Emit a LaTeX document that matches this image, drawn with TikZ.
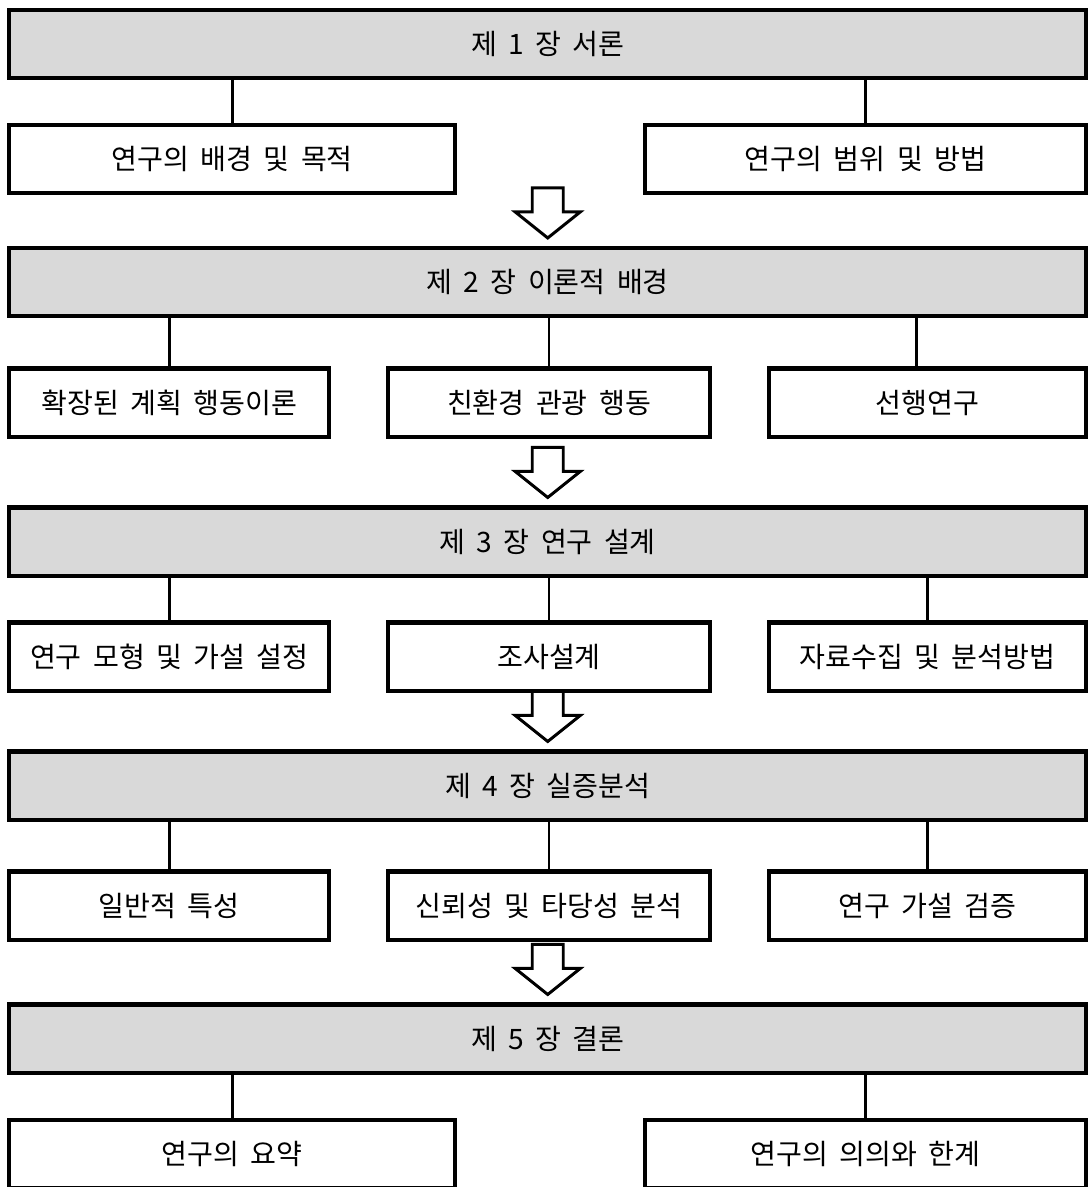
\documentclass[tikz,border=0pt]{standalone}
\usepackage{fontspec}
\setmainfont[WordSpace=1.8]{Noto Sans CJK KR}
\usetikzlibrary{positioning, calc}
\definecolor{chapgray}{HTML}{D9D9D9}

\begin{document}
\begin{tikzpicture}[x=0.01cm, y=-0.01cm,
  every node/.style={font=\fontsize{8pt}{9.5pt}\selectfont},
  chap/.style={draw, line width=1.15pt, fill=chapgray, minimum width=10.765cm,
    minimum height=0.68cm, inner sep=0pt},
  sub/.style={draw, line width=1.15pt, fill=white, minimum height=0.68cm, inner sep=0pt},
  link/.style={line width=0.85pt},
  bigarrow/.style={draw, line width=0.85pt, fill=white, line join=miter}]
\useasboundingbox (0,0) rectangle (1088,1187);

% chapters
\node[chap] (ch1) at (547.75,43.75) {제 1 장 서론};
\node[chap] (ch2) at (547.75,282) {제 2 장 이론적 배경};
\node[chap] (ch3) at (547.75,541.5) {제 3 장 연구 설계};
\node[chap] (ch4) at (547.75,785.5) {제 4 장 실증분석};
\node[chap] (ch5) at (547.75,1038.5) {제 5 장 결론};

% chapter 1
\node[sub, minimum width=4.455cm] (s11) at (232.25,159) {연구의 배경 및 목적};
\node[sub, minimum width=4.41cm] (s12) at (865.5,159) {연구의 범위 및 방법};
\draw[link] (s11.north) -- (s11.north |- ch1.south);
\draw[link] (s12.north) -- (s12.north |- ch1.south);

% chapter 2
\node[sub, minimum width=3.195cm] (s21) at (169.25,402.5) {확장된 계획 행동이론};
\node[sub, minimum width=3.22cm] (s22) at (549,402.5) {친환경 관광 행동};
\node[sub, minimum width=3.17cm] (s23) at (927.5,402.5) {선행연구};
\draw[link] (s21.north) -- (s21.north |- ch2.south);
\draw[link] (s22.north) -- (s22.north |- ch2.south);
\draw[link] ($(s23.north)+(-11,0)$) coordinate (c23) -- (c23 |- ch2.south);

% chapter 3
\node[sub, minimum width=3.195cm] (s31) at (169.25,656.5) {연구 모형 및 가설 설정};
\node[sub, minimum width=3.22cm] (s32) at (549,656.5) {조사설계};
\node[sub, minimum width=3.17cm] (s33) at (927.5,656.5) {자료수집 및 분석방법};
\draw[link] (s31.north) -- (s31.north |- ch3.south);
\draw[link] (s32.north) -- (s32.north |- ch3.south);
\draw[link] (s33.north) -- (s33.north |- ch3.south);

% chapter 4
\node[sub, minimum width=3.195cm] (s41) at (169.25,905.5) {일반적 특성};
\node[sub, minimum width=3.22cm] (s42) at (549,905.5) {신뢰성 및 타당성 분석};
\node[sub, minimum width=3.17cm] (s43) at (927.5,905.5) {연구 가설 검증};
\draw[link] (s41.north) -- (s41.north |- ch4.south);
\draw[link] (s42.north) -- (s42.north |- ch4.south);
\draw[link] (s43.north) -- (s43.north |- ch4.south);

% chapter 5
\node[sub, minimum width=4.455cm] (s51) at (232.25,1154) {연구의 요약};
\node[sub, minimum width=4.41cm] (s52) at (865.5,1154) {연구의 의의와 한계};
\draw[link] (s51.north) -- (s51.north |- ch5.south);
\draw[link] (s52.north) -- (s52.north |- ch5.south);

% block arrows
\foreach \c in {ch2,ch3,ch4,ch5}
  \draw[bigarrow] ($(\c.north)+(0,-8)$) -- ++(-32.5,-26) -- ++(17,0) -- ++(0,-24)
    -- ++(31,0) -- ++(0,24) -- ++(17,0) -- cycle;

\end{tikzpicture}
\end{document}
